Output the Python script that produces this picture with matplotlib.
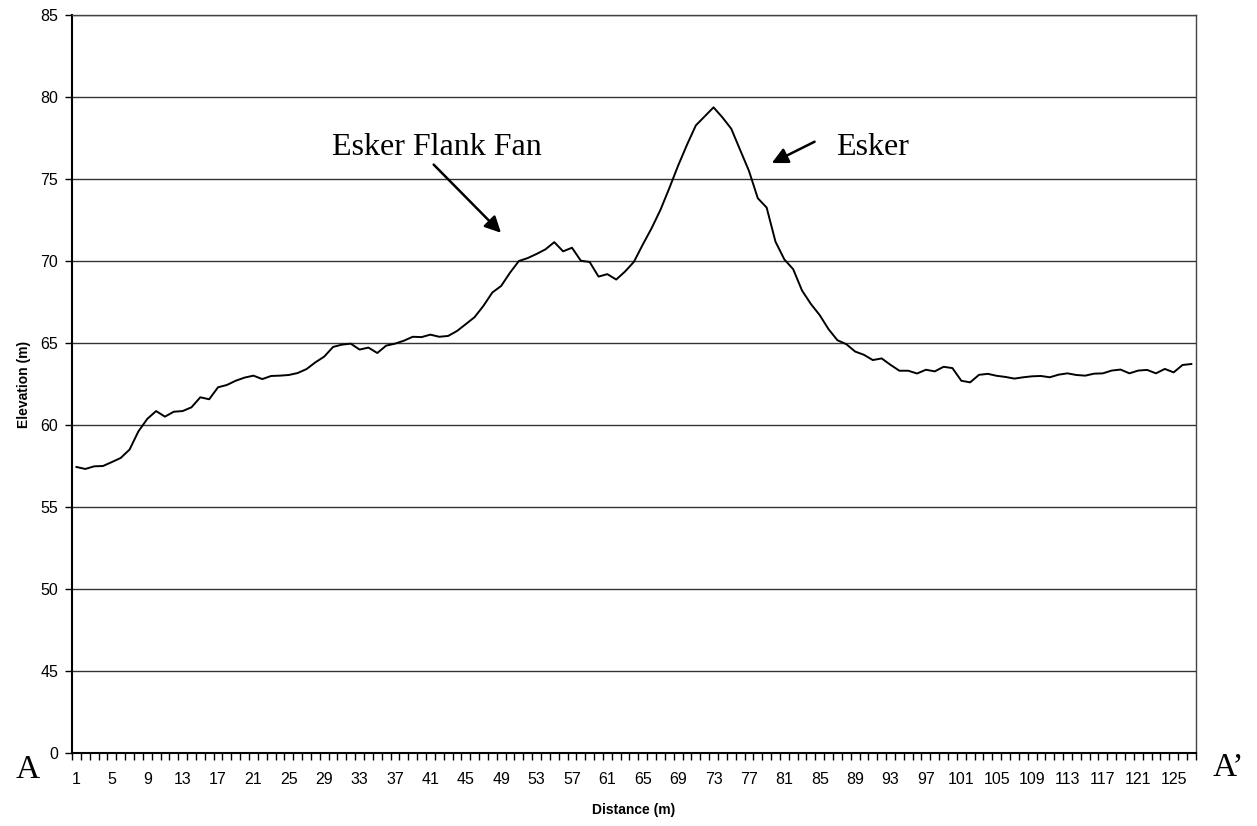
import numpy as np
import matplotlib
matplotlib.use("Agg")
import matplotlib.pyplot as plt

# elevation profile A-A', one reading per metre
distance = list(range(1, 128))
elevation = [
    57.44, 57.32, 57.48, 57.50, 57.74, 57.99, 58.50, 59.61, 60.37, 60.85,
    60.51, 60.81, 60.85, 61.08, 61.69, 61.57, 62.30, 62.44, 62.70, 62.89,
    63.01, 62.80, 62.99, 63.01, 63.05, 63.17, 63.41, 63.82, 64.17, 64.76,
    64.90, 64.96, 64.60, 64.72, 64.39, 64.84, 64.96, 65.14, 65.38, 65.36,
    65.51, 65.38, 65.43, 65.73, 66.15, 66.58, 67.27, 68.08, 68.48, 69.29,
    70.00, 70.18, 70.43, 70.71, 71.15, 70.59, 70.81, 70.02, 69.94, 69.05,
    69.20, 68.87, 69.36, 69.95, 71.00, 72.00, 73.12, 74.44, 75.82, 77.09,
    78.27, 78.82, 79.37, 78.76, 78.07, 76.78, 75.50, 73.83, 73.26, 71.18,
    70.10, 69.50, 68.20, 67.38, 66.70, 65.84, 65.17, 64.93, 64.48, 64.28,
    63.96, 64.06, 63.67, 63.31, 63.31, 63.14, 63.37, 63.27, 63.55, 63.47,
    62.70, 62.60, 63.06, 63.12, 63.00, 62.93, 62.83, 62.91, 62.97, 62.99,
    62.91, 63.07, 63.15, 63.05, 63.01, 63.13, 63.15, 63.32, 63.38, 63.15,
    63.32, 63.36, 63.15, 63.42, 63.21, 63.66, 63.72,
]

y_ticks = [40, 45, 50, 55, 60, 65, 70, 75, 80, 85]
y_tick_labels = ["0", "45", "50", "55", "60", "65", "70", "75", "80", "85"]
x_label_ticks = list(range(1, 128, 4))

fig = plt.figure(figsize=(12.57, 8.26), dpi=100)
ax = fig.add_axes([0.0573, 0.0884, 0.894, 0.8934])

for v in y_ticks[1:]:
    ax.axhline(v, color="#333333", linewidth=1.0, zorder=1)

ax.plot(distance, elevation, color="black", linewidth=1.4, zorder=3)

ax.set_xlim(0.5, len(distance) + 0.5)
ax.set_ylim(40, 85)

ax.set_yticks(y_ticks)
ax.set_yticklabels(y_tick_labels, fontsize=11.5, family="Liberation Sans")
ax.tick_params(axis="y", length=5, width=1, pad=5, direction="out")

# category boundaries get tick marks, labels sit in the middle of the category
ax.set_xticks(np.arange(0.5, len(distance) + 1, 1))
ax.set_xticklabels([])
ax.tick_params(axis="x", which="major", length=5, width=1, direction="out")
ax.set_xticks(x_label_ticks, minor=True)
ax.set_xticklabels([str(t) for t in x_label_ticks], minor=True,
                   fontsize=11.5, family="Liberation Sans")
ax.tick_params(axis="x", which="minor", length=0, pad=14)

for side in ["left", "bottom"]:
    ax.spines[side].set_linewidth(1.5)
for side in ["top", "right"]:
    ax.spines[side].set_linewidth(1.0)
    ax.spines[side].set_color("#444444")

ax.set_ylabel("Elevation (m)", fontsize=10, fontweight="bold",
              family="Liberation Sans", labelpad=7)
ax.set_xlabel("Distance (m)", fontsize=10, fontweight="bold",
              family="Liberation Sans", labelpad=11)

serif = "Liberation Serif"
ax.annotate("", xy=(49.2, 71.6), xytext=(41.15, 76.0),
            arrowprops=dict(arrowstyle="-|>", color="black", lw=1.8,
                            mutation_scale=24))
ax.text(29.9, 76.9, "Esker Flank Fan", fontsize=23, family=serif,
        ha="left", va="center")

ax.annotate("", xy=(79.3, 75.9), xytext=(84.7, 77.35),
            arrowprops=dict(arrowstyle="-|>", color="black", lw=1.8,
                            mutation_scale=24))
ax.text(86.9, 76.9, "Esker", fontsize=23, family=serif,
        ha="left", va="center")

fig.text(28 / 1257, 1 - 770 / 826, "A", fontsize=24, family=serif,
         ha="center", va="center")
fig.text(1228 / 1257, 1 - 768 / 826, "A\u2019", fontsize=24, family=serif,
         ha="center", va="center")

fig.savefig("out.png", dpi=100)
